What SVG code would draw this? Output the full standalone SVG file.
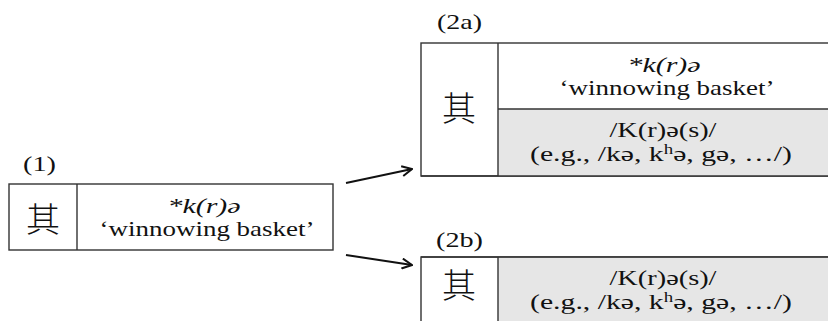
<svg xmlns="http://www.w3.org/2000/svg" width="828" height="321" viewBox="0 0 828 321">
<style>
.box{fill:#fff;stroke:#333;stroke-width:1.4}
.gray{fill:#e6e6e6;stroke:none}
.ln{stroke:#333;stroke-width:1.4;fill:none}
.t{font-size:22px;fill:#111;text-anchor:middle}
.it{font-style:italic}
.lab{font-size:21px;fill:#111}
.cjk{font-size:34px;font-weight:300;fill:#111;text-anchor:middle}
.arr{stroke:#111;stroke-width:2;fill:none}
</style>
<defs>
<marker id="ah" viewBox="0 0 12 12" refX="11" refY="6" markerWidth="12" markerHeight="12" markerUnits="userSpaceOnUse" orient="auto">
<path d="M1,1 L11,6 L1,11" fill="none" stroke="#111" stroke-width="2"/>
</marker>
</defs>
<g font-family="Liberation Serif, DejaVu Serif, Times New Roman, Times, serif">
<g id="node1">
<text class="lab" x="23" y="171" textLength="33" lengthAdjust="spacingAndGlyphs">(1)</text>
<rect class="box" x="9" y="184" width="324" height="66"/>
<line class="ln" x1="77" y1="184" x2="77" y2="250"/>
<text class="cjk" font-family="Noto Sans CJK JP, Noto Sans CJK SC, sans-serif" x="43" y="232">其</text>
<text class="t it" x="204" y="213" textLength="73" lengthAdjust="spacingAndGlyphs">*k(r)ə</text>
<text class="t" x="207" y="236" textLength="215" lengthAdjust="spacingAndGlyphs">‘winnowing basket’</text>
</g>
<g id="node2a">
<text class="lab" x="437" y="29" textLength="45" lengthAdjust="spacingAndGlyphs">(2a)</text>
<rect class="box" x="421" y="43" width="420" height="133"/>
<rect class="gray" x="498" y="109" width="343" height="67"/>
<line class="ln" x1="421" y1="176" x2="841" y2="176"/>
<line class="ln" x1="498" y1="43" x2="498" y2="176"/>
<line class="ln" x1="498" y1="109" x2="841" y2="109"/>
<text class="cjk" font-family="Noto Sans CJK JP, Noto Sans CJK SC, sans-serif" x="459" y="121">其</text>
<text class="t it" x="664" y="72" textLength="73" lengthAdjust="spacingAndGlyphs">*k(r)ə</text>
<text class="t" x="667" y="95" textLength="215" lengthAdjust="spacingAndGlyphs">‘winnowing basket’</text>
<text class="t" x="663" y="137" textLength="107" lengthAdjust="spacingAndGlyphs">/K(r)ə(s)/</text>
<text class="t" x="661" y="161" textLength="262" lengthAdjust="spacingAndGlyphs">(e.g., /kə, k<tspan font-size="14" dy="-7">h</tspan><tspan dy="7">ə, gə, …/)</tspan></text>
</g>
<g id="node2b">
<text class="lab" x="436" y="247" textLength="47" lengthAdjust="spacingAndGlyphs">(2b)</text>
<rect class="box" x="421" y="257" width="420" height="80"/>
<rect class="gray" x="498" y="257.7" width="343" height="80"/>
<line class="ln" x1="421" y1="257" x2="841" y2="257"/>
<line class="ln" x1="498" y1="257" x2="498" y2="337"/>
<text class="cjk" font-family="Noto Sans CJK JP, Noto Sans CJK SC, sans-serif" x="459" y="298">其</text>
<text class="t" x="663" y="285" textLength="107" lengthAdjust="spacingAndGlyphs">/K(r)ə(s)/</text>
<text class="t" x="661" y="309" textLength="262" lengthAdjust="spacingAndGlyphs">(e.g., /kə, k<tspan font-size="14" dy="-7">h</tspan><tspan dy="7">ə, gə, …/)</tspan></text>
</g>
</g>
<g id="connectors">
<line class="arr" x1="346" y1="183" x2="412" y2="169" marker-end="url(#ah)"/>
<line class="arr" x1="346" y1="255" x2="412" y2="265" marker-end="url(#ah)"/>
</g>
</svg>
